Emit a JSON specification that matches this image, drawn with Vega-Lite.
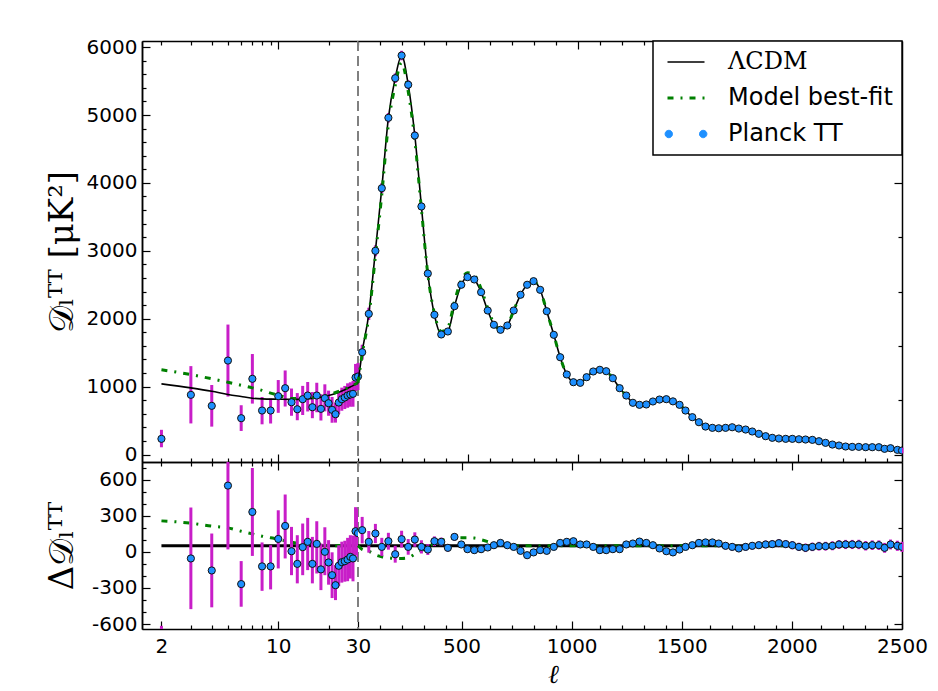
{
  "$schema": "https://vega.github.io/schema/vega-lite/v6.json",
  "background": "white",
  "padding": {"left": 45, "top": 37, "right": 5, "bottom": 0},
  "datasets": {
    "low": [
      {"l":2,"D":231,"Dlo":107,"Dhi":364,"R":-760,"Rlo":-890,"Rhi":-615},
      {"l":3,"D":879,"Dlo":458,"Dhi":1302,"R":-55,"Rlo":-476,"Rhi":368},
      {"l":4,"D":717,"Dlo":411,"Dhi":1024,"R":-155,"Rlo":-461,"Rhi":152},
      {"l":5,"D":1384,"Dlo":854,"Dhi":1914,"R":550,"Rlo":20,"Rhi":1080},
      {"l":6,"D":535,"Dlo":347,"Dhi":726,"R":-268,"Rlo":-456,"Rhi":-77},
      {"l":7,"D":1115,"Dlo":750,"Dhi":1480,"R":331,"Rlo":-34,"Rhi":696},
      {"l":8,"D":648,"Dlo":445,"Dhi":847,"R":-121,"Rlo":-324,"Rhi":78},
      {"l":9,"D":648,"Dlo":457,"Dhi":824,"R":-121,"Rlo":-312,"Rhi":55},
      {"l":10,"D":859,"Dlo":614,"Dhi":1097,"R":107,"Rlo":-138,"Rhi":345},
      {"l":11,"D":977,"Dlo":707,"Dhi":1238,"R":215,"Rlo":-55,"Rhi":476},
      {"l":12,"D":770,"Dlo":571,"Dhi":972,"R":5,"Rlo":-194,"Rhi":207},
      {"l":13,"D":667,"Dlo":505,"Dhi":905,"R":-100,"Rlo":-262,"Rhi":138},
      {"l":14,"D":815,"Dlo":582,"Dhi":1011,"R":39,"Rlo":-194,"Rhi":235},
      {"l":15,"D":869,"Dlo":634,"Dhi":1068,"R":83,"Rlo":-152,"Rhi":282},
      {"l":16,"D":697,"Dlo":535,"Dhi":921,"R":-100,"Rlo":-262,"Rhi":124},
      {"l":17,"D":869,"Dlo":623,"Dhi":1057,"R":66,"Rlo":-180,"Rhi":254},
      {"l":18,"D":673,"Dlo":501,"Dhi":888,"R":-146,"Rlo":-318,"Rhi":69},
      {"l":19,"D":830,"Dlo":636,"Dhi":1034,"R":0,"Rlo":-194,"Rhi":204},
      {"l":20,"D":756,"Dlo":571,"Dhi":941,"R":-88,"Rlo":-273,"Rhi":97},
      {"l":21,"D":658,"Dlo":468,"Dhi":848,"R":-194,"Rlo":-384,"Rhi":-4},
      {"l":22,"D":594,"Dlo":470,"Dhi":760,"R":-277,"Rlo":-401,"Rhi":-111},
      {"l":23,"D":766,"Dlo":596,"Dhi":936,"R":-116,"Rlo":-286,"Rhi":54},
      {"l":24,"D":815,"Dlo":645,"Dhi":985,"R":-86,"Rlo":-256,"Rhi":84},
      {"l":25,"D":840,"Dlo":670,"Dhi":1010,"R":-78,"Rlo":-248,"Rhi":92},
      {"l":26,"D":869,"Dlo":689,"Dhi":1049,"R":-64,"Rlo":-244,"Rhi":116},
      {"l":27,"D":884,"Dlo":704,"Dhi":1064,"R":-42,"Rlo":-222,"Rhi":138},
      {"l":28,"D":894,"Dlo":704,"Dhi":1084,"R":-55,"Rlo":-245,"Rhi":135},
      {"l":29,"D":1134,"Dlo":934,"Dhi":1334,"R":171,"Rlo":-29,"Rhi":371},
      {"l":30,"D":1149,"Dlo":949,"Dhi":1349,"R":155,"Rlo":-45,"Rhi":355}
    ],
    "bin": [
      {"l":49,"D":1507,"R":180,"e":110},{"l":79,"D":2072,"R":83,"e":90},{"l":109,"D":3000,"R":152,"e":80},
      {"l":138,"D":3922,"R":41,"e":75},{"l":168,"D":4959,"R":88,"e":70},{"l":199,"D":5542,"R":-20,"e":70},
      {"l":228,"D":5876,"R":105,"e":70},{"l":258,"D":5446,"R":41,"e":65},{"l":288,"D":4698,"R":102,"e":60},
      {"l":318,"D":3653,"R":41,"e":55},{"l":347,"D":2666,"R":19,"e":45},{"l":377,"D":2058,"R":88,"e":40},
      {"l":408,"D":1768,"R":83,"e":35},{"l":438,"D":1812,"R":33,"e":30},{"l":468,"D":2185,"R":124,"e":30},
      {"l":499,"D":2500,"R":61,"e":28},{"l":527,"D":2612,"R":22,"e":27},{"l":558,"D":2578,"R":14,"e":26},
      {"l":589,"D":2391,"R":22,"e":25},{"l":619,"D":2121,"R":36,"e":25},{"l":647,"D":1911,"R":55,"e":25},
      {"l":677,"D":1837,"R":74,"e":25},{"l":708,"D":1900,"R":55,"e":25},{"l":737,"D":2121,"R":41,"e":25},
      {"l":768,"D":2353,"R":8,"e":25},{"l":798,"D":2500,"R":-28,"e":25},{"l":827,"D":2553,"R":-5,"e":25},
      {"l":857,"D":2426,"R":14,"e":25},{"l":887,"D":2111,"R":8,"e":25},{"l":919,"D":1763,"R":41,"e":25},
      {"l":948,"D":1433,"R":74,"e":25},{"l":978,"D":1179,"R":83,"e":25},{"l":1008,"D":1065,"R":88,"e":25},
      {"l":1039,"D":1056,"R":61,"e":25},{"l":1068,"D":1139,"R":61,"e":25},{"l":1098,"D":1223,"R":41,"e":25},
      {"l":1128,"D":1248,"R":14,"e":25},{"l":1157,"D":1227,"R":14,"e":25},{"l":1187,"D":1124,"R":22,"e":25},
      {"l":1218,"D":977,"R":22,"e":25},{"l":1248,"D":869,"R":61,"e":25},{"l":1278,"D":762,"R":69,"e":25},
      {"l":1308,"D":732,"R":85,"e":25},{"l":1339,"D":737,"R":74,"e":25},{"l":1369,"D":781,"R":55,"e":25},
      {"l":1399,"D":810,"R":28,"e":25},{"l":1430,"D":815,"R":5,"e":25},{"l":1460,"D":783,"R":-5,"e":25},
      {"l":1490,"D":732,"R":19,"e":25},{"l":1517,"D":648,"R":41,"e":26},{"l":1548,"D":550,"R":55,"e":26},
      {"l":1578,"D":476,"R":74,"e":27},{"l":1608,"D":412,"R":78,"e":27},{"l":1639,"D":393,"R":78,"e":28},
      {"l":1668,"D":387,"R":69,"e":28},{"l":1699,"D":393,"R":50,"e":29},{"l":1729,"D":402,"R":41,"e":29},
      {"l":1759,"D":383,"R":28,"e":30},{"l":1790,"D":368,"R":41,"e":30},{"l":1820,"D":339,"R":50,"e":31},
      {"l":1850,"D":305,"R":55,"e":31},{"l":1881,"D":270,"R":61,"e":32},{"l":1911,"D":246,"R":64,"e":32},
      {"l":1941,"D":236,"R":72,"e":33},{"l":1972,"D":231,"R":64,"e":33},{"l":2002,"D":231,"R":55,"e":34},
      {"l":2032,"D":225,"R":41,"e":34},{"l":2062,"D":221,"R":33,"e":35},{"l":2093,"D":216,"R":41,"e":35},
      {"l":2123,"D":196,"R":47,"e":36},{"l":2153,"D":172,"R":47,"e":36},{"l":2184,"D":147,"R":50,"e":37},
      {"l":2214,"D":133,"R":61,"e":37},{"l":2244,"D":118,"R":61,"e":38},{"l":2274,"D":113,"R":61,"e":38},
      {"l":2304,"D":113,"R":61,"e":39},{"l":2335,"D":108,"R":50,"e":39},{"l":2365,"D":108,"R":55,"e":40},
      {"l":2395,"D":108,"R":55,"e":40},{"l":2421,"D":84,"R":33,"e":41},{"l":2448,"D":93,"R":61,"e":41},
      {"l":2479,"D":69,"R":50,"e":42},{"l":2500,"D":59,"R":41,"e":42}
    ],
    "lcdmLow": [
      {"l":2,"D":1041},{"l":3,"D":982},{"l":4,"D":932},{"l":5,"D":884},{"l":6,"D":854},{"l":7,"D":830},
      {"l":8,"D":820},{"l":10,"D":815},{"l":12,"D":812},{"l":15,"D":820},{"l":18,"D":845},{"l":20,"D":870},
      {"l":22,"D":900},{"l":25,"D":955},{"l":28,"D":1015},{"l":30,"D":1050}
    ],
    "fitLow": [
      {"l":2,"D":1247},{"l":3,"D":1178},{"l":4,"D":1115},{"l":5,"D":1065},{"l":6,"D":1020},{"l":7,"D":982},
      {"l":8,"D":945},{"l":9,"D":905},{"l":10,"D":875},{"l":12,"D":825},{"l":15,"D":830},{"l":18,"D":855},
      {"l":20,"D":880},{"l":25,"D":965},{"l":30,"D":1058}
    ],
    "lcdmHigh": [
      {"l":30,"D":1050},{"l":49,"D":1507},{"l":79,"D":2072},{"l":109,"D":3000},{"l":138,"D":3922},{"l":168,"D":4959},
      {"l":199,"D":5542},{"l":228,"D":5876},{"l":258,"D":5446},{"l":288,"D":4698},{"l":318,"D":3653},{"l":347,"D":2666},
      {"l":377,"D":2058},{"l":408,"D":1768},{"l":438,"D":1812},{"l":468,"D":2185},{"l":499,"D":2500},{"l":527,"D":2612},
      {"l":558,"D":2578},{"l":589,"D":2391},{"l":619,"D":2121},{"l":647,"D":1911},{"l":677,"D":1837},{"l":708,"D":1900},
      {"l":737,"D":2121},{"l":768,"D":2353},{"l":798,"D":2500},{"l":827,"D":2553},{"l":857,"D":2426},{"l":887,"D":2111},
      {"l":919,"D":1763},{"l":948,"D":1433},{"l":978,"D":1179},{"l":1008,"D":1065},{"l":1039,"D":1056},{"l":1068,"D":1139},
      {"l":1098,"D":1223},{"l":1128,"D":1248},{"l":1157,"D":1227},{"l":1187,"D":1124},{"l":1218,"D":977},{"l":1248,"D":869},
      {"l":1278,"D":762},{"l":1308,"D":732},{"l":1339,"D":737},{"l":1369,"D":781},{"l":1399,"D":810},{"l":1430,"D":815},
      {"l":1460,"D":783},{"l":1490,"D":732},{"l":1517,"D":648},{"l":1548,"D":550},{"l":1578,"D":476},{"l":1608,"D":412},
      {"l":1639,"D":393},{"l":1668,"D":387},{"l":1699,"D":393},{"l":1729,"D":402},{"l":1759,"D":383},{"l":1790,"D":368},
      {"l":1820,"D":339},{"l":1850,"D":305},{"l":1881,"D":270},{"l":1911,"D":246},{"l":1941,"D":236},{"l":1972,"D":231},
      {"l":2002,"D":231},{"l":2032,"D":225},{"l":2062,"D":221},{"l":2093,"D":216},{"l":2123,"D":196},{"l":2153,"D":172},
      {"l":2184,"D":147},{"l":2214,"D":133},{"l":2244,"D":118},{"l":2274,"D":113},{"l":2304,"D":113},{"l":2335,"D":108},
      {"l":2365,"D":108},{"l":2395,"D":100},{"l":2421,"D":90},{"l":2448,"D":85},{"l":2479,"D":72},{"l":2500,"D":62}
    ],
    "fitHigh": [
      {"l":30,"D":1058},{"l":49,"D":1477},{"l":79,"D":2027},{"l":109,"D":2925},{"l":138,"D":3831},{"l":168,"D":4859},
      {"l":199,"D":5437},{"l":228,"D":5771},{"l":258,"D":5346},{"l":288,"D":4628},{"l":318,"D":3613},{"l":347,"D":2656},
      {"l":377,"D":2078},{"l":408,"D":1813},{"l":438,"D":1872},{"l":468,"D":2250},{"l":499,"D":2566},{"l":527,"D":2678},
      {"l":558,"D":2642},{"l":589,"D":2441},{"l":619,"D":2156},{"l":647,"D":1931},{"l":677,"D":1847},{"l":708,"D":1905},
      {"l":737,"D":2121},{"l":768,"D":2353},{"l":798,"D":2500},{"l":827,"D":2553},{"l":857,"D":2426},{"l":887,"D":2111},
      {"l":919,"D":1763},{"l":948,"D":1433},{"l":978,"D":1179},{"l":1008,"D":1065},{"l":1039,"D":1056},{"l":1068,"D":1139},
      {"l":1098,"D":1223},{"l":1128,"D":1248},{"l":1157,"D":1227},{"l":1187,"D":1124},{"l":1218,"D":977},{"l":1248,"D":869},
      {"l":1278,"D":762},{"l":1308,"D":732},{"l":1339,"D":737},{"l":1369,"D":781},{"l":1399,"D":810},{"l":1430,"D":815},
      {"l":1460,"D":783},{"l":1490,"D":732},{"l":1517,"D":648},{"l":1548,"D":550},{"l":1578,"D":476},{"l":1608,"D":412},
      {"l":1639,"D":393},{"l":1668,"D":387},{"l":1699,"D":393},{"l":1729,"D":402},{"l":1759,"D":383},{"l":1790,"D":368},
      {"l":1820,"D":339},{"l":1850,"D":305},{"l":1881,"D":270},{"l":1911,"D":246},{"l":1941,"D":236},{"l":1972,"D":231},
      {"l":2002,"D":231},{"l":2032,"D":225},{"l":2062,"D":221},{"l":2093,"D":216},{"l":2123,"D":196},{"l":2153,"D":172},
      {"l":2184,"D":147},{"l":2214,"D":133},{"l":2244,"D":118},{"l":2274,"D":113},{"l":2304,"D":113},{"l":2335,"D":108},
      {"l":2365,"D":108},{"l":2395,"D":100},{"l":2421,"D":90},{"l":2448,"D":85},{"l":2479,"D":72},{"l":2500,"D":62}
    ],
    "fitResLow": [
      {"l":2,"R":257},{"l":3,"R":238},{"l":4,"R":213},{"l":5,"R":199},{"l":6,"R":171},{"l":7,"R":149},{"l":8,"R":130},
      {"l":9,"R":117},{"l":10,"R":105},{"l":12,"R":80},{"l":15,"R":60},{"l":20,"R":52},{"l":25,"R":50},{"l":30,"R":50}
    ],
    "fitResHigh": [
      {"l":30,"R":50},{"l":49,"R":20},{"l":79,"R":5},{"l":109,"R":-25},{"l":138,"R":-41},{"l":168,"R":-50},{"l":199,"R":-55},
      {"l":228,"R":-55},{"l":258,"R":-50},{"l":288,"R":-20},{"l":318,"R":10},{"l":347,"R":40},{"l":377,"R":70},{"l":408,"R":95},
      {"l":438,"R":110},{"l":468,"R":115},{"l":499,"R":116},{"l":527,"R":116},{"l":558,"R":114},{"l":589,"R":100},{"l":619,"R":85},
      {"l":647,"R":70},{"l":677,"R":60},{"l":708,"R":55},{"l":800,"R":50},{"l":2500,"R":50}
    ],
    "zeroLow": [{"l":2,"R":50},{"l":30,"R":50}],
    "zeroHigh": [{"l":30,"R":50},{"l":2500,"R":50}],
    "boundary": [{"l":30}]
  },
  "concat": [
    {
      "width": 216, "height": 421,
      "layer": [
        {
          "data": {"name": "boundary"},
          "mark": {"type": "rule", "color": "#808080", "strokeWidth": 2, "strokeDash": [10, 5]},
          "encoding": {
            "x": {"field": "l", "type": "quantitative", "scale": {"type": "log", "domain": [1.53, 30]},
              "axis": {"orient": "top", "values": [2,3,4,5,6,7,8,9,10,20,30], "labels": false, "title": null,
                "tickSize": {"condition": {"test": "datum.value === 10", "value": -8}, "value": -4}}}
          }
        },
        {
          "data": {"name": "low"},
          "mark": {"type": "rule", "color": "#c81ec8", "strokeWidth": 3},
          "encoding": {
            "x": {"field": "l", "type": "quantitative", "scale": {"type": "log", "domain": [1.53, 30]}, "axis": null},
            "y": {"field": "Dlo", "type": "quantitative", "scale": {"domain": [-110, 6090]},
              "axis": {"orient": "left", "values": [200,400,600,800,1200,1400,1600,1800,2200,2400,2600,2800,3200,3400,3600,3800,4200,4400,4600,4800,5200,5400,5600,5800],
                "labels": false, "title": null, "tickSize": -4}},
            "y2": {"field": "Dhi"}
          }
        },
        {
          "data": {"name": "lcdmLow"},
          "mark": {"type": "line", "color": "black", "strokeWidth": 1.6, "interpolate": "monotone"},
          "encoding": {
            "x": {"field": "l", "type": "quantitative", "scale": {"type": "log", "domain": [1.53, 30]},
              "axis": {"orient": "bottom", "values": [2,3,4,5,6,7,8,9,10,20,30], "labels": false, "title": null,
                "tickSize": {"condition": {"test": "datum.value === 10", "value": -8}, "value": -4}}},
            "y": {"field": "D", "type": "quantitative", "scale": {"domain": [-110, 6090]},
              "axis": {"orient": "left", "values": [0,1000,2000,3000,4000,5000,6000],
                "labelExpr": "'' + datum.value", "tickSize": -8,
                "labelPadding": 13, "labelFlush": false,
                "title": "𝒟ₗᵀᵀ [μK²]", "titleFontSize": 34, "titlePadding": 7}}
          }
        },
        {
          "data": {"name": "fitLow"},
          "mark": {"type": "line", "color": "#008000", "strokeWidth": 3, "strokeDash": [6, 7, 2, 7], "interpolate": "monotone"},
          "encoding": {
            "x": {"field": "l", "type": "quantitative", "scale": {"type": "log", "domain": [1.53, 30]}, "axis": null},
            "y": {"field": "D", "type": "quantitative", "scale": {"domain": [-110, 6090]}, "axis": null}
          }
        },
        {
          "data": {"name": "low"},
          "mark": {"type": "circle", "color": "#1e90ff", "stroke": "#111111", "strokeWidth": 1, "size": 52, "opacity": 1},
          "encoding": {
            "x": {"field": "l", "type": "quantitative", "scale": {"type": "log", "domain": [1.53, 30]}, "axis": null},
            "y": {"field": "D", "type": "quantitative", "scale": {"domain": [-110, 6090]}, "axis": null}
          }
        }
      ],
      "resolve": {"axis": {"x": "independent", "y": "independent"}}
    },
    {
      "width": 544, "height": 421,
      "layer": [
        {
          "data": {"name": "bin"},
          "mark": {"type": "errorbar", "color": "#c81ec8", "thickness": 3},
          "encoding": {
            "x": {"field": "l", "type": "quantitative", "scale": {"domain": [30, 2500]}, "axis": null},
            "y": {"field": "D", "type": "quantitative", "scale": {"domain": [-110, 6090]}},
            "yError": {"field": "e"}
          }
        },
        {
          "data": {"name": "lcdmHigh"},
          "mark": {"type": "line", "strokeWidth": 1.6, "interpolate": "monotone"},
          "encoding": {
            "x": {"field": "l", "type": "quantitative", "scale": {"domain": [30, 2500]},
              "axis": {"orient": "top", "values": [130,230,330,430,530,630,730,830,930,1030,1130,1230,1330,1430,1530,1630,1730,1830,1930,2030,2130,2230,2330,2430],
                "labels": false, "title": null,
                "tickSize": {"condition": {"test": "(datum.value - 30) % 500 === 0", "value": -8}, "value": -4}}},
            "y": {"field": "D", "type": "quantitative", "scale": {"domain": [-110, 6090]},
              "axis": {"orient": "right",
                "values": [0,200,400,600,800,1000,1200,1400,1600,1800,2000,2200,2400,2600,2800,3000,3200,3400,3600,3800,4000,4200,4400,4600,4800,5000,5200,5400,5600,5800,6000],
                "labels": false, "title": null,
                "tickSize": {"condition": {"test": "datum.value % 1000 === 0", "value": -8}, "value": -4}}},
            "color": {"datum": "ΛCDM",
              "scale": {"domain": ["ΛCDM", "Model best-fit", "Planck TT"], "range": ["#000000", "#008000", "#1e90ff"]},
              "legend": {
                "orient": "top-right", "offset": 0, "title": null, "padding": 9, "rowPadding": 12,
                "symbolSize": 1369, "symbolOffset": 12, "labelOffset": 30, "labelFontSize": 24, "labelFont": "DejaVu Sans",
                "labelColor": "#000000", "labelLimit": 400, "strokeColor": "#000000", "fillColor": "#ffffff",
                "cornerRadius": 0,
                "encode": {
                  "legend": {"update": {"strokeWidth": {"value": 1.5}}},
                  "symbols": {"update": {
                    "shape": {"signal": "datum.value === 'Planck TT' ? 'M-1.13,0A0.2,0.2,0,1,0,-0.73,0A0.2,0.2,0,1,0,-1.13,0ZM0.73,0A0.2,0.2,0,1,0,1.13,0A0.2,0.2,0,1,0,0.73,0Z' : 'stroke'"},
                    "fill": {"signal": "datum.value === 'Planck TT' ? '#1e90ff' : 'transparent'"},
                    "stroke": {"signal": "datum.value === 'Planck TT' ? '#111111' : (datum.value === 'Model best-fit' ? '#008000' : '#000000')"},
                    "strokeWidth": {"signal": "datum.value === 'Planck TT' ? 1 : (datum.value === 'Model best-fit' ? 3 : 1.5)"},
                    "strokeDash": {"signal": "datum.value === 'Model best-fit' ? [6, 7, 2, 7] : [1, 0]"},
                    "opacity": {"value": 1}
                  }},
                  "labels": {"update": {"font": {"signal": "datum.value === 'ΛCDM' ? 'DejaVu Serif' : 'DejaVu Sans'"}}}
                }
              }}
          }
        },
        {
          "data": {"name": "fitHigh"},
          "mark": {"type": "line", "strokeWidth": 3, "strokeDash": [6, 7, 2, 7], "interpolate": "monotone"},
          "encoding": {
            "x": {"field": "l", "type": "quantitative", "scale": {"domain": [30, 2500]},
              "axis": {"orient": "bottom", "values": [130,230,330,430,530,630,730,830,930,1030,1130,1230,1330,1430,1530,1630,1730,1830,1930,2030,2130,2230,2330,2430],
                "labels": false, "title": null,
                "tickSize": {"condition": {"test": "(datum.value - 30) % 500 === 0", "value": -8}, "value": -4}}},
            "y": {"field": "D", "type": "quantitative", "scale": {"domain": [-110, 6090]}},
            "color": {"datum": "Model best-fit"}
          }
        },
        {
          "data": {"name": "bin"},
          "mark": {"type": "circle", "stroke": "#111111", "strokeWidth": 1, "size": 52, "opacity": 1, "clip": true},
          "encoding": {
            "x": {"field": "l", "type": "quantitative", "scale": {"domain": [30, 2500]}, "axis": null},
            "y": {"field": "D", "type": "quantitative", "scale": {"domain": [-110, 6090]}},
            "color": {"datum": "Planck TT"}
          }
        }
      ],
      "resolve": {"axis": {"x": "independent"}}
    },
    {
      "width": 216, "height": 167,
      "layer": [
        {
          "data": {"name": "boundary"},
          "mark": {"type": "rule", "color": "#808080", "strokeWidth": 2, "strokeDash": [10, 5]},
          "encoding": {
            "x": {"field": "l", "type": "quantitative", "scale": {"type": "log", "domain": [1.53, 30]},
              "axis": {"orient": "top", "values": [2,3,4,5,6,7,8,9,10,20,30], "labels": false, "title": null,
                "tickSize": {"condition": {"test": "datum.value === 10", "value": -8}, "value": -4}}}
          }
        },
        {
          "data": {"name": "zeroLow"},
          "mark": {"type": "line", "color": "black", "strokeWidth": 3},
          "encoding": {
            "x": {"field": "l", "type": "quantitative", "scale": {"type": "log", "domain": [1.53, 30]},
              "axis": {"orient": "bottom", "values": [2,3,4,5,6,7,8,9,10,20,30],
                "labelExpr": "datum.value === 2 || datum.value === 10 || datum.value === 30 ? '' + datum.value : ''",
                "labelFlush": false, "labelOverlap": false, "labelPadding": 15, "title": null,
                "tickSize": {"condition": {"test": "datum.value === 10 || datum.value === 2 || datum.value === 30", "value": -8}, "value": -4}}},
            "y": {"field": "R", "type": "quantitative", "scale": {"domain": [-641, 746]},
              "axis": {"orient": "left", "values": [-600,-300,0,300,600],
                "labelExpr": "'' + datum.value", "tickSize": -8,
                "labelPadding": 13, "labelFlush": false,
                "title": "Δ𝒟ₗᵀᵀ", "titleFontSize": 34, "titlePadding": 12}}
          }
        },
        {
          "data": {"name": "fitResLow"},
          "mark": {"type": "line", "color": "#008000", "strokeWidth": 3, "strokeDash": [6, 7, 2, 7], "interpolate": "monotone"},
          "encoding": {
            "x": {"field": "l", "type": "quantitative", "scale": {"type": "log", "domain": [1.53, 30]}, "axis": null},
            "y": {"field": "R", "type": "quantitative", "scale": {"domain": [-641, 746]},
              "axis": {"orient": "left", "values": [-500,-400,-200,-100,100,200,400,500,700],
                "labels": false, "title": null, "tickSize": -4}}
          }
        },
        {
          "data": {"name": "low"},
          "mark": {"type": "rule", "color": "#c81ec8", "strokeWidth": 3, "clip": true},
          "encoding": {
            "x": {"field": "l", "type": "quantitative", "scale": {"type": "log", "domain": [1.53, 30]}, "axis": null},
            "y": {"field": "Rlo", "type": "quantitative", "scale": {"domain": [-641, 746]}, "axis": null},
            "y2": {"field": "Rhi"}
          }
        },
        {
          "data": {"name": "low"},
          "mark": {"type": "circle", "color": "#1e90ff", "stroke": "#111111", "strokeWidth": 1, "size": 52, "opacity": 1, "clip": true},
          "encoding": {
            "x": {"field": "l", "type": "quantitative", "scale": {"type": "log", "domain": [1.53, 30]}, "axis": null},
            "y": {"field": "R", "type": "quantitative", "scale": {"domain": [-641, 746]}, "axis": null}
          }
        }
      ],
      "resolve": {"axis": {"x": "independent", "y": "independent"}}
    },
    {
      "width": 544, "height": 167,
      "layer": [
        {
          "data": {"name": "zeroHigh"},
          "mark": {"type": "line", "color": "black", "strokeWidth": 3},
          "encoding": {
            "x": {"field": "l", "type": "quantitative", "scale": {"domain": [30, 2500]},
              "axis": {"orient": "top", "values": [500,1000,1500,2000], "labels": false, "title": null, "tickSize": -8}},
            "y": {"field": "R", "type": "quantitative", "scale": {"domain": [-641, 746]},
              "axis": {"orient": "right", "values": [-600,-500,-400,-300,-200,-100,0,100,200,300,400,500,600,700],
                "labels": false, "title": null,
                "tickSize": {"condition": {"test": "datum.value % 300 === 0", "value": -8}, "value": -4}}}
          }
        },
        {
          "data": {"name": "fitResHigh"},
          "mark": {"type": "line", "color": "#008000", "strokeWidth": 3, "strokeDash": [6, 7, 2, 7], "interpolate": "monotone"},
          "encoding": {
            "x": {"field": "l", "type": "quantitative", "scale": {"domain": [30, 2500]},
              "axis": {"orient": "bottom",
                "values": [130,230,330,430,500,630,730,830,930,1000,1130,1230,1330,1430,1500,1630,1730,1830,1930,2000,2130,2230,2330,2430,2500],
                "labelExpr": "datum.value % 500 === 0 ? '' + datum.value : ''",
                "labelFlush": false, "labelOverlap": false, "labelPadding": 15,
                "tickSize": {"condition": {"test": "datum.value % 500 === 0", "value": -8}, "value": -4},
                "title": "ℓ", "titleFont": "DejaVu Serif", "titleFontStyle": "italic", "titleFontSize": 26,
                "titleX": 195, "titlePadding": 1}},
            "y": {"field": "R", "type": "quantitative", "scale": {"domain": [-641, 746]}}
          }
        },
        {
          "data": {"name": "bin"},
          "mark": {"type": "errorbar", "color": "#c81ec8", "thickness": 3},
          "encoding": {
            "x": {"field": "l", "type": "quantitative", "scale": {"domain": [30, 2500]}, "axis": null},
            "y": {"field": "R", "type": "quantitative", "scale": {"domain": [-641, 746]}},
            "yError": {"field": "e"}
          }
        },
        {
          "data": {"name": "bin"},
          "mark": {"type": "circle", "color": "#1e90ff", "stroke": "#111111", "strokeWidth": 1, "size": 52, "opacity": 1, "clip": true},
          "encoding": {
            "x": {"field": "l", "type": "quantitative", "scale": {"domain": [30, 2500]}, "axis": null},
            "y": {"field": "R", "type": "quantitative", "scale": {"domain": [-641, 746]}}
          }
        }
      ],
      "resolve": {"axis": {"x": "independent"}}
    }
  ],
  "columns": 2,
  "spacing": 0,
  "bounds": "flush",
  "align": "each",
  "resolve": {"scale": {"color": "independent"}, "legend": {"color": "independent"}},
  "config": {
    "view": {"stroke": null},
    "font": "DejaVu Sans",
    "axis": {
      "labelFont": "DejaVu Sans", "labelFontSize": 20, "labelColor": "#000000",
      "domainColor": "#000000", "domainWidth": 1.5, "tickColor": "#000000", "tickWidth": 1.2,
      "grid": false, "titleFont": "DejaVu Serif", "titleFontSize": 28, "titleFontWeight": "normal", "titleColor": "#000000"
    }
  }
}
